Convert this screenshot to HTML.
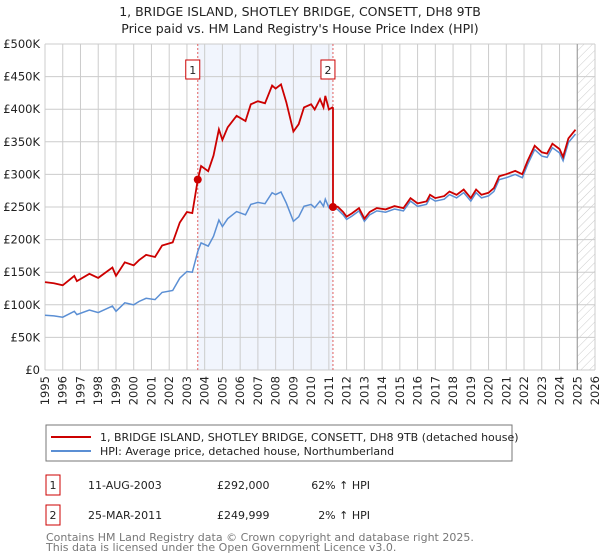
<!DOCTYPE html>
<html><head><meta charset="utf-8"><style>
body{margin:0;background:#fff;font-family:"Liberation Sans","DejaVu Sans",sans-serif;}
#wrap{position:relative;width:600px;height:560px;overflow:hidden;}
text{font-family:"DejaVu Sans","Liberation Sans",sans-serif;}
</style></head><body>
<div id="wrap">
<svg id="chart" width="600" height="560" xmlns="http://www.w3.org/2000/svg">
<defs><pattern id="hatch" width="6" height="6" patternUnits="userSpaceOnUse" patternTransform="rotate(45)"><line x1="0" y1="0" x2="0" y2="6" stroke="#ccc" stroke-width="1"/></pattern></defs>
<text x="300" y="16" text-anchor="middle" font-size="12.5" fill="#222">1, BRIDGE ISLAND, SHOTLEY BRIDGE, CONSETT, DH8 9TB</text>
<text x="300" y="33" text-anchor="middle" font-size="12.5" fill="#222">Price paid vs. HM Land Registry's House Price Index (HPI)</text>
<g id="grid"></g><g id="series"></g><g id="axes"></g>
<rect x="46" y="425" width="466" height="36" fill="#fff" stroke="#777"/>
<line x1="51" y1="437" x2="91" y2="437" stroke="#cc0000" stroke-width="2"/>
<text x="100" y="441" font-size="11" fill="#222">1, BRIDGE ISLAND, SHOTLEY BRIDGE, CONSETT, DH8 9TB (detached house)</text>
<line x1="51" y1="451" x2="91" y2="451" stroke="#5b8fd4" stroke-width="2"/>
<text x="100" y="455" font-size="11" fill="#222">HPI: Average price, detached house, Northumberland</text>
<rect x="46" y="475" width="14" height="20" fill="#fff" stroke="#cc0000"/>
<text x="53" y="489" text-anchor="middle" font-size="11" fill="#222">1</text>
<text x="88" y="489" font-size="11" fill="#222">11-AUG-2003</text>
<text x="217" y="489" font-size="11" fill="#222">£292,000</text>
<text x="370" y="489" text-anchor="end" font-size="11" fill="#222">62% ↑ HPI</text>
<rect x="46" y="505" width="14" height="20" fill="#fff" stroke="#cc0000"/>
<text x="53" y="519" text-anchor="middle" font-size="11" fill="#222">2</text>
<text x="88" y="519" font-size="11" fill="#222">25-MAR-2011</text>
<text x="217" y="519" font-size="11" fill="#222">£249,999</text>
<text x="370" y="519" text-anchor="end" font-size="11" fill="#222">2% ↑ HPI</text>
<text x="46" y="541" font-size="11" fill="#777">Contains HM Land Registry data © Crown copyright and database right 2025.</text>
<text x="46" y="551" font-size="11" fill="#777">This data is licensed under the Open Government Licence v3.0.</text>
</svg>
</div>
<script>
const hpiYears=[1995.0,1995.5,1996.0,1996.65,1996.8,1997.5,1998.0,1998.8,1999.0,1999.5,2000.0,2000.3,2000.7,2001.2,2001.6,2002.2,2002.6,2003.0,2003.3,2003.45,2003.61,2003.8,2004.2,2004.5,2004.8,2005.0,2005.3,2005.8,2006.3,2006.6,2007.0,2007.4,2007.8,2008.0,2008.3,2008.6,2009.0,2009.3,2009.6,2010.0,2010.2,2010.5,2010.7,2010.8,2011.0,2011.2,2011.5,2011.8,2012.0,2012.3,2012.7,2013.0,2013.3,2013.7,2014.2,2014.7,2015.2,2015.6,2016.0,2016.5,2016.7,2017.0,2017.5,2017.8,2018.2,2018.6,2019.0,2019.3,2019.6,2020.0,2020.3,2020.6,2021.0,2021.5,2021.9,2022.2,2022.6,2023.0,2023.3,2023.6,2024.0,2024.2,2024.5,2024.9];
const hpiValues=[84,83,81,90,85,92,88,98,90,103,100,105,110,108,119,122,141,151,150,165,182,195,190,205,230,220,232,243,238,254,257,255,272,269,273,256,228,235,251,254,249,259,251,262,249,251,246,238,231,236,244,228,238,244,242,247,244,259,251,254,264,259,262,269,264,272,259,272,264,267,274,292,295,300,295,315,338,328,326,341,333,321,349,362];
const saleYears=[2003.61,2011.23];
const salePrices=[292,249.999];
const saleLabels=["1","2"];
const yTicks=[0,50,100,150,200,250,300,350,400,450,500];
const yTickLabels=["£0","£50K","£100K","£150K","£200K","£250K","£300K","£350K","£400K","£450K","£500K"];
const xTicks=[1995,1996,1997,1998,1999,2000,2001,2002,2003,2004,2005,2006,2007,2008,2009,2010,2011,2012,2013,2014,2015,2016,2017,2018,2019,2020,2021,2022,2023,2024,2025,2026];

const X0=45,X1=595,Y0=370,Y1=44;
const xs=y=>X0+(y-1995)/(2026-1995)*(X1-X0);
const ys=v=>Y0-v/500*(Y0-Y1);
const NS="http://www.w3.org/2000/svg";
function mk(tag,attrs,parent){const e=document.createElementNS(NS,tag);for(const k in attrs)e.setAttribute(k,attrs[k]);parent.appendChild(e);return e;}
const grid=document.getElementById('grid'),series=document.getElementById('series'),axes=document.getElementById('axes');
function hpiAt(y){for(let i=0;i<hpiYears.length-1;i++){if(y>=hpiYears[i]&&y<=hpiYears[i+1]){const t=(y-hpiYears[i])/(hpiYears[i+1]-hpiYears[i]);return hpiValues[i]+t*(hpiValues[i+1]-hpiValues[i]);}}return hpiValues[hpiValues.length-1];}
let r=mk('rect',{x:xs(saleYears[0]),y:Y1,width:xs(saleYears[1])-xs(saleYears[0]),height:Y0-Y1,fill:'#eef3fc',opacity:0.8},grid);


r=mk('rect',{x:xs(2025),y:Y1,width:X1-xs(2025),height:Y0-Y1,fill:'url(#hatch)'},grid);


yTicks.forEach((v,i)=>{
 const l=mk('line',{x1:X0,x2:X1,y1:ys(v),y2:ys(v),stroke:'#ccc','stroke-width':1},grid);
 
 
 const t=mk('text',{x:X0-5,y:ys(v)+4,'text-anchor':'end','font-size':11.5,fill:'#222'},axes);
 t.textContent=yTickLabels[i];
 
 
});
xTicks.forEach(y=>{
 const l=mk('line',{x1:xs(y),x2:xs(y),y1:Y1,y2:Y0,stroke:'#ccc','stroke-width':1},grid);
 
 
 const t=mk('text',{x:0,y:0,'text-anchor':'end','font-size':11.5,fill:'#222',transform:`translate(${xs(y)+4},376) rotate(-90)`},axes);
 t.textContent=y;
 
 
});
let l=mk('line',{x1:xs(2025),x2:xs(2025),y1:Y1,y2:Y0,stroke:'#999','stroke-width':1},grid);


const hp=hpiYears.map((y,i)=>`${i?'L':'M'}${xs(y).toFixed(1)},${ys(hpiValues[i]).toFixed(1)}`).join('');
let p=mk('path',{d:hp,fill:'none',stroke:'#5b8fd4','stroke-width':1.5},series);


const r1=salePrices[0]/hpiAt(saleYears[0]),r2=salePrices[1]/hpiAt(saleYears[1]);
let pts=[];
hpiYears.forEach((y,i)=>{if(y<saleYears[1])pts.push([y,hpiValues[i]*r1]);});
pts.push([saleYears[1],hpiAt(saleYears[1])*r1]);
pts.push([saleYears[1],salePrices[1]]);
hpiYears.forEach((y,i)=>{if(y>saleYears[1])pts.push([y,hpiValues[i]*r2*1.02]);});
p=mk('path',{d:pts.map((q,i)=>`${i?'L':'M'}${xs(q[0]).toFixed(1)},${ys(q[1]).toFixed(1)}`).join(''),fill:'none',stroke:'#cc0000','stroke-width':1.8},series);


saleYears.forEach((y,i)=>{
 const v=mk('line',{x1:xs(y),x2:xs(y),y1:Y1,y2:Y0,stroke:'#e06060','stroke-width':1,'stroke-dasharray':'2,2'},grid);
 
 
 const c=mk('circle',{cx:xs(y),cy:ys(salePrices[i]),r:4,fill:'#cc0000'},series);
 
 
 const b=mk('rect',{x:xs(y)-12,y:60,width:14,height:19,fill:'#fff',stroke:'#cc0000'},series);
 
 
 const t=mk('text',{x:xs(y)-5,y:74,'text-anchor':'middle','font-size':11,fill:'#222'},series);
 t.textContent=saleLabels[i];
 
 
});
</script>
</body></html>
